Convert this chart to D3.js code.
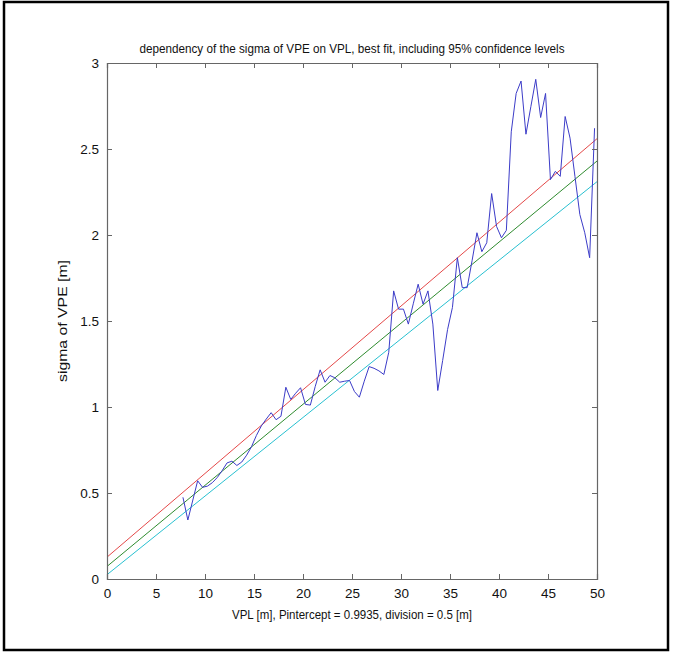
<!DOCTYPE html>
<html><head><meta charset="utf-8">
<script src="https://cdn.jsdelivr.net/npm/d3@7"></script>
<style>html,body{margin:0;padding:0;background:#fff;}svg{display:block;}</style>
</head><body>
<svg id="chart" width="673" height="653"></svg>
<script>
// ---- data ----
const titleText = "dependency of the sigma of VPE on VPL, best fit, including 95% confidence levels";
const xLabelText = "VPL [m], Pintercept = 0.9935, division = 0.5 [m]";
const yLabelText = "sigma of VPE [m]";
const xTicks = [0, 5, 10, 15, 20, 25, 30, 35, 40, 45, 50];
const yTicks = [0, 0.5, 1, 1.5, 2, 2.5, 3];
const yTickLabels = ["0", "0.5", "1", "1.5", "2", "2.5", "3"];
const vplX = [7.75, 8.25, 9.25, 9.75, 10.25, 10.75, 11.25, 11.75, 12.25, 12.75, 13.25, 13.75, 14.25, 14.75,
  15.25, 15.75, 16.25, 16.75, 17.25, 17.75, 18.25, 18.75, 19.25, 19.75, 20.25, 20.75, 21.25, 21.75, 22.25,
  22.75, 23.25, 23.75, 24.25, 24.75, 25.25, 25.75, 26.25, 26.75, 27.25, 27.75, 28.25, 28.75, 29.25, 29.75,
  30.25, 30.75, 31.25, 31.75, 32.25, 32.75, 33.25, 33.75, 34.25, 34.75, 35.25, 35.75, 36.25, 36.75, 37.25,
  37.75, 38.25, 38.75, 39.25, 39.75, 40.25, 40.75, 41.25, 41.75, 42.25, 42.75, 43.25, 43.75, 44.25, 44.75,
  45.25, 45.75, 46.25, 46.75, 47.25, 47.75, 48.25, 48.75, 49.25, 49.75];
const sigmaVPE = [0.475, 0.343, 0.571, 0.533, 0.54, 0.56, 0.59, 0.63, 0.675, 0.685, 0.66, 0.68, 0.72, 0.77,
  0.835, 0.89, 0.93, 0.967, 0.926, 0.946, 1.115, 1.044, 1.08, 1.112, 1.015, 1.011, 1.12, 1.216, 1.144,
  1.183, 1.17, 1.144, 1.15, 1.154, 1.09, 1.057, 1.15, 1.235, 1.225, 1.21, 1.189, 1.318, 1.675, 1.569,
  1.569, 1.482, 1.6, 1.714, 1.598, 1.675, 1.482, 1.096, 1.27, 1.45, 1.579, 1.868, 1.694, 1.694, 1.85,
  2.013, 1.903, 1.955, 2.241, 2.05, 1.984, 2.027, 2.6, 2.823, 2.895, 2.586, 2.746, 2.905, 2.683, 2.823,
  2.322, 2.37, 2.341, 2.689, 2.563, 2.341, 2.119, 2.013, 1.868, 2.621];
const fitX = [0, 50];
const upperConf = [0.127, 2.56];
const bestFit = [0.073, 2.43];
const lowerConf = [0.025, 2.31];

// ---- layout ----
const svg = d3.select("#chart");
const L = 107, R = 597, T = 63, B = 579;
const x = d3.scaleLinear().domain([0, 50]).range([L, R]);
const y = d3.scaleLinear().domain([0, 3]).range([B, T]);
const font = "Liberation Sans, Arial, sans-serif";
const axisCol = "#666";

// outer frame
svg.append("rect").attr("x", 4).attr("y", 2).attr("width", 664).attr("height", 648)
  .attr("fill", "none").attr("stroke", "#000").attr("stroke-width", 2.5);

// plot clip
svg.append("clipPath").attr("id", "clip").append("rect")
  .attr("x", L).attr("y", T).attr("width", R - L).attr("height", B - T);

const line = d3.line().x(d => x(d[0])).y(d => y(d[1]));
const g = svg.append("g").attr("clip-path", "url(#clip)");
const series = [
  {xs: fitX, ys: upperConf, color: "#e44848"},
  {xs: fitX, ys: bestFit, color: "#2e8b2e"},
  {xs: fitX, ys: lowerConf, color: "#28c0d0"},
  {xs: vplX, ys: sigmaVPE, color: "#3c3cc8"}
];
series.forEach(s => {
  g.append("path").datum(s.xs.map((v, i) => [v, s.ys[i]]))
    .attr("d", line).attr("fill", "none").attr("stroke", s.color).attr("stroke-width", 1);
});

// axes (MATLAB style box with inward ticks)
const tick = 5;
const xAxisB = d3.axisBottom(x).tickValues(xTicks).tickSize(-tick).tickPadding(9).tickFormat(d3.format("d"));
const xAxisT = d3.axisTop(x).tickValues(xTicks).tickSize(-tick).tickFormat("");
const yAxisL = d3.axisLeft(y).tickValues(yTicks).tickSize(-tick).tickPadding(8).tickFormat((d, i) => yTickLabels[i]);
const yAxisR = d3.axisRight(y).tickValues(yTicks).tickSize(-tick).tickFormat("");
function styleAxis(sel) {
  sel.selectAll("path.domain").attr("stroke", axisCol);
  sel.selectAll(".tick line").attr("stroke", axisCol);
  sel.selectAll("text").attr("fill", "#111").attr("font-family", font).attr("font-size", 13.5);
}
svg.append("g").attr("transform", `translate(0,${B})`).call(xAxisB).call(styleAxis);
svg.append("g").attr("transform", `translate(0,${T})`).call(xAxisT).call(styleAxis);
svg.append("g").attr("transform", `translate(${L},0)`).call(yAxisL).call(styleAxis);
svg.append("g").attr("transform", `translate(${R},0)`).call(yAxisR).call(styleAxis);
svg.selectAll(".domain").attr("stroke-width", 1.2);

// texts
svg.append("text").attr("x", (L + R) / 2).attr("y", T - 10).attr("text-anchor", "middle")
  .attr("font-family", font).attr("font-size", 13.5).attr("fill", "#111")
  .attr("textLength", 425).attr("lengthAdjust", "spacingAndGlyphs").text(titleText);
svg.append("text").attr("x", (L + R) / 2).attr("y", B + 40).attr("text-anchor", "middle")
  .attr("font-family", font).attr("font-size", 13.5).attr("fill", "#111")
  .attr("textLength", 240).attr("lengthAdjust", "spacingAndGlyphs").text(xLabelText);
svg.append("text").attr("transform", `translate(67,${(T + B) / 2}) rotate(-90)`).attr("text-anchor", "middle")
  .attr("font-family", font).attr("font-size", 13.5).attr("fill", "#111")
  .attr("textLength", 122).attr("lengthAdjust", "spacingAndGlyphs").text(yLabelText);
</script>
</body></html>
